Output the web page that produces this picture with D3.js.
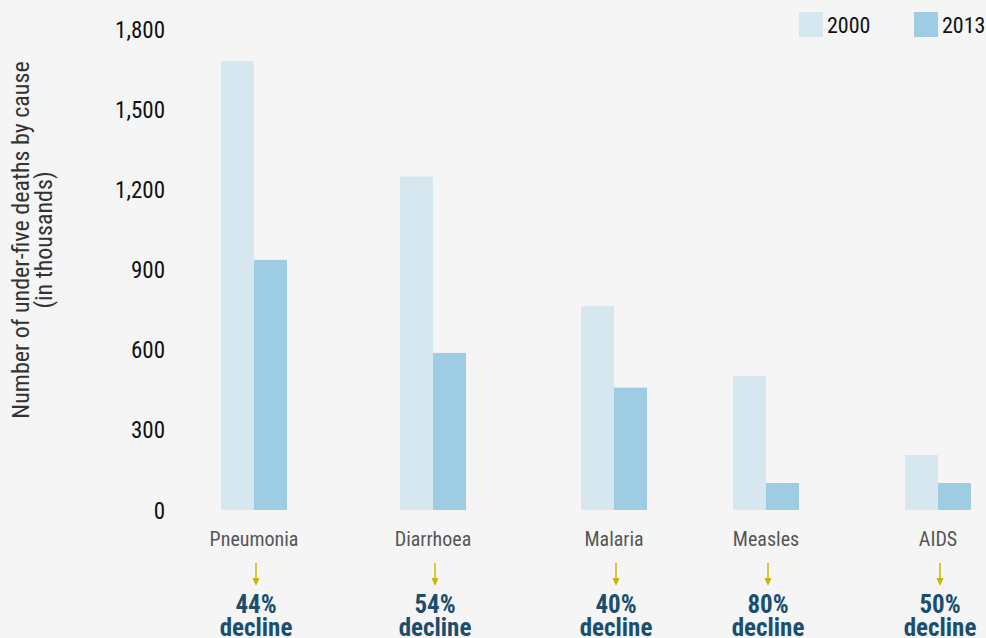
<!DOCTYPE html>
<html>

<head>
    <meta charset="UTF-8">
    <title>Under-five deaths by cause</title>
    <style>
        html,
        body {
            margin: 0;
            padding: 0;
            background: #f5f5f5;
        }

        svg {
            display: block;
            font-family: "Liberation Sans Narrow", "Roboto Condensed", "Arial Narrow", sans-serif;
        }
    </style>
</head>

<body>
    <svg width="986" height="638"></svg>

    <script src="https://d3js.org/d3.v7.min.js"></script>
    <script>
// data
var causes = ["Pneumonia", "Diarrhoea", "Malaria", "Measles", "AIDS"];
var years = ["2000", "2013"];
var deaths2000 = [1680, 1248, 763, 501, 206];
var deaths2013 = [936, 588, 458, 101, 101];
var declines = ["44%", "54%", "40%", "80%", "50%"];
var yTicks = [0, 300, 600, 900, 1200, 1500, 1800];

var colors = { "2000": "#d6e7f0", "2013": "#9ecce3" };

var svg = d3.select("svg");

// scales (groups are not evenly spaced in the original)
var x = d3.scaleOrdinal().domain(causes).range([254, 433, 614, 766, 938]);
var xYear = d3.scaleBand().domain(years).range([-33, 33]).padding(0);
var y = d3.scaleLinear().domain([0, 1800]).range([510, 29]);

// y axis (labels only)
var yAxis = d3.axisLeft(y)
    .tickValues(yTicks)
    .tickFormat(d3.format(","))
    .tickSize(0)
    .tickPadding(0);

var gy = svg.append("g")
    .attr("transform", "translate(165,0)")
    .call(yAxis)
    .attr("font-family", null)
    .attr("font-size", null);
gy.select(".domain").remove();
gy.selectAll("text")
    .attr("font-size", 23)
    .attr("fill", "#111")
    .attr("dy", "0.35em");

// y title
var title = svg.append("text")
    .attr("transform", "translate(29,240) rotate(-90)")
    .attr("text-anchor", "middle")
    .attr("font-size", 24)
    .attr("fill", "#333");
title.append("tspan").attr("x", 0).attr("dy", 0).text("Number of under-five deaths by cause");
title.append("tspan").attr("x", 0).attr("dy", 23).text("(in thousands)");

// bars
var rows = causes.map(function (c, i) {
    return { cause: c, values: [{ year: "2000", v: deaths2000[i] }, { year: "2013", v: deaths2013[i] }] };
});

var groups = svg.selectAll("g.cause")
    .data(rows)
    .enter()
    .append("g")
    .attr("class", "cause")
    .attr("transform", function (d) { return "translate(" + x(d.cause) + ",0)"; });

groups.selectAll("rect")
    .data(function (d) { return d.values; })
    .enter()
    .append("rect")
    .attr("x", function (d) { return xYear(d.year); })
    .attr("width", xYear.bandwidth())
    .attr("y", function (d) { return y(d.v); })
    .attr("height", function (d) { return y(0) - y(d.v); })
    .attr("fill", function (d) { return colors[d.year]; });

// category labels
groups.append("text")
    .attr("y", 546)
    .attr("text-anchor", "middle")
    .attr("font-size", 20)
    .attr("fill", "#555")
    .text(function (d) { return d.cause; });

// arrows
groups.append("line")
    .attr("x1", 2).attr("x2", 2)
    .attr("y1", 563).attr("y2", 580)
    .attr("stroke", "#c9b600")
    .attr("stroke-width", 1.5);
groups.append("path")
    .attr("d", "M-1.5,578 L5.5,578 L2,586 Z")
    .attr("fill", "#c9b600");

// decline labels
var dec = groups.append("text")
    .attr("text-anchor", "middle")
    .attr("font-size", 25)
    .attr("font-weight", "bold")
    .attr("fill", "#1b4e6d");
dec.append("tspan").attr("x", 2).attr("y", 613).text(function (d, i) { return declines[i]; });
dec.append("tspan").attr("x", 2).attr("y", 636).text("decline");

// legend
var legend = svg.selectAll("g.legend")
    .data(years)
    .enter()
    .append("g")
    .attr("class", "legend")
    .attr("transform", function (d, i) { return "translate(" + (799 + i * 115) + ",12)"; });

legend.append("rect")
    .attr("width", 24)
    .attr("height", 25)
    .attr("fill", function (d) { return colors[d]; });

legend.append("text")
    .attr("x", 28)
    .attr("y", 21)
    .attr("font-size", 22)
    .attr("fill", "#111")
    .text(function (d) { return d; });
    </script>
</body>

</html>
